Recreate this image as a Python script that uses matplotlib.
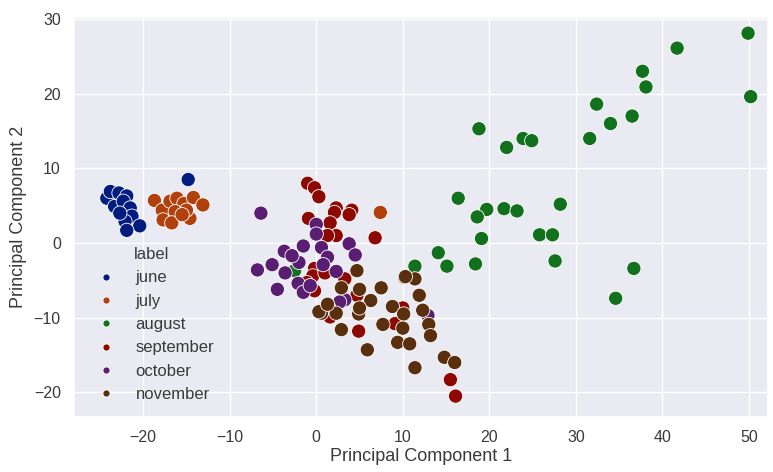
import numpy as np
import pandas as pd
import seaborn as sns
import matplotlib
matplotlib.use("Agg")
from matplotlib import pyplot as plt

# principal components, one pair of lists per month
june_x = [-24.2, -23.8, -22.8, -21.9, -23.3, -22.3, -21.5, -21.3, -22.1, -20.4, -21.9, -22.7, -14.8]
june_y = [6.0, 6.9, 6.7, 6.3, 4.9, 5.6, 4.7, 3.6, 2.9, 2.3, 1.7, 4.0, 8.5]

july_x = [-18.7, -17.8, -16.9, -16.1, -15.3, -14.2, -13.1, -16.3, -17.7, -16.7, -14.6, -15.0, -15.5, 7.4]
july_y = [5.7, 4.4, 5.6, 6.0, 5.3, 6.1, 5.1, 4.2, 3.1, 2.7, 3.3, 4.4, 3.8, 4.1]

august_x = [49.9, 41.7, 37.7, 38.1, 50.2, 32.4, 36.5, 34.0, 31.6, 18.8, 22.0, 23.9, 24.9, 16.4,
            28.2, 19.7, 18.6, 21.7, 23.2, 25.8, 27.3, 19.1, 14.1, 15.1, 18.4, 27.6, 36.7, 34.6,
            11.4, -2.5]
august_y = [28.1, 26.1, 23.0, 20.9, 19.6, 18.6, 17.0, 16.0, 14.0, 15.3, 12.8, 14.0, 13.7, 6.0,
            5.2, 4.5, 3.5, 4.6, 4.3, 1.1, 1.1, 0.6, -1.3, -3.1, -2.8, -2.4, -3.4, -7.4,
            -3.1, -3.7]

september_x = [-1.0, -0.2, 0.3, 2.3, 2.1, 4.1, 3.8, -0.9, 1.6, 2.3, 1.3, 6.8, -0.2, -0.4, 1.0,
               3.3, -0.2, -1.1, 4.9, 10.0, 9.1, 1.6, 15.5, 16.1, 4.7]
september_y = [8.0, 7.4, 6.2, 4.7, 4.1, 4.4, 3.8, 3.3, 2.7, 1.0, 1.0, 0.7, -3.4, -4.4, -4.0,
               -4.8, -6.4, -5.3, -11.8, -8.7, -10.8, -9.9, -18.3, -20.5, -7.0]

october_x = [-6.4, 0.0, 0.0, 3.8, 4.5, -1.5, 0.6, -3.7, 1.3, -2.0, -5.1, -3.6, -6.8, 2.3, 0.8,
             -2.1, -4.5, -1.5, 3.3, -0.7, -2.8, 12.9, 2.7]
october_y = [4.0, 2.5, 1.2, -0.1, -1.6, -0.4, -0.6, -1.1, -1.9, -2.6, -2.9, -4.0, -3.6, -3.8, -2.9,
             -5.4, -6.2, -6.6, -7.6, -5.7, -1.7, -9.7, -7.9]

november_x = [4.7, 2.9, 5.0, 7.5, 6.3, 1.4, 0.6, 2.3, 4.9, 5.0, 2.9, 5.9, 8.8, 10.1, 7.7, 10.0,
              9.4, 10.8, 11.4, 10.2, 11.4, 11.9, 12.3, 13.0, 13.2, 14.8, 16.0, 0.3, 10.3, 1.3]
november_y = [-3.7, -6.0, -6.2, -6.0, -7.7, -8.5, -9.4, -9.4, -9.5, -8.7, -11.6, -14.3, -8.5, -9.5,
              -10.9, -11.4, -13.3, -13.5, -16.7, -4.6, -4.8, -7.0, -9.0, -10.9, -12.4, -15.3, -16.0,
              -9.2, -4.5, -8.2]

months = ["june", "july", "august", "september", "october", "november"]
xs = [june_x, july_x, august_x, september_x, october_x, november_x]
ys = [june_y, july_y, august_y, september_y, october_y, november_y]

rows = []
for m, x, y in zip(months, xs, ys):
    for a, b in zip(x, y):
        rows.append((a, b, m))
df = pd.DataFrame(rows, columns=["pc1", "pc2", "label"])

sns.set_theme(style="darkgrid")
plt.rcParams['font.family'] = ['Liberation Sans', 'DejaVu Sans']
grey = "#3a3a3a"

fig = plt.figure(figsize=(7.73, 4.72), dpi=100)
ax = fig.add_axes([0.0957, 0.1165, 0.8978, 0.848])
sns.scatterplot(data=df, x="pc1", y="pc2", hue="label", hue_order=months,
                palette="dark", s=105, edgecolor="white", linewidth=0.6, ax=ax)

ax.set_xlim(-28.0, 52.2)
ax.set_ylim(-23.3, 30.3)
ax.set_xlabel("Principal Component 1", fontsize=13, color=grey, labelpad=2)
ax.set_ylabel("Principal Component 2", fontsize=13, color=grey, labelpad=5)
ax.tick_params(labelsize=11.5, labelcolor=grey)

leg = ax.legend(loc="lower left", title="label", fontsize=12, title_fontsize=12,
                frameon=False, markerscale=0.5, labelcolor=grey)
leg.get_title().set_color(grey)

fig.savefig("out.png", dpi=100)
